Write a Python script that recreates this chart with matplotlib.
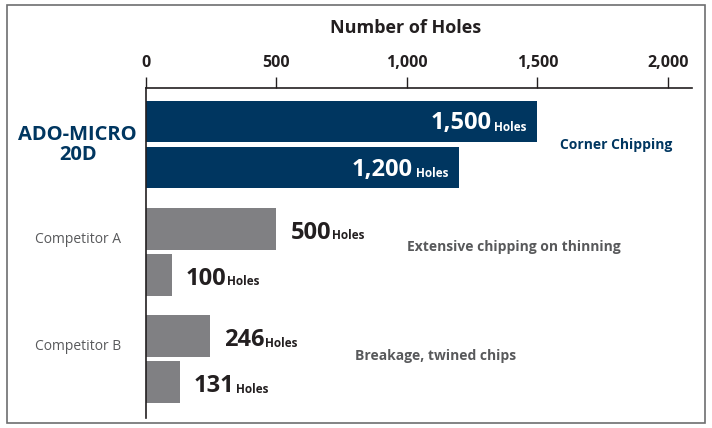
import matplotlib

matplotlib.use("Agg")
import matplotlib.pyplot as plt
from matplotlib.patches import Rectangle
from matplotlib.ticker import FuncFormatter

plt.rcParams["font.family"] = ["Open Sans", "DejaVu Sans"]

# data
groups = ["ADO-MICRO\n20D", "Competitor A", "Competitor B"]
first_run = [1500, 500, 246]
second_run = [1200, 100, 131]
notes = ["Corner Chipping", "Extensive chipping on thinning", "Breakage, twined chips"]
xticks = [0, 500, 1000, 1500, 2000]

NAVY = "#003660"
GREY_BAR = "#808083"
GREY_TEXT = "#58595b"
DARK = "#231f20"

fig = plt.figure(figsize=(7.12, 4.28), dpi=100)
fig.patches.append(
    Rectangle((7 / 712, 5 / 428), 698 / 712, 418 / 428, transform=fig.transFigure,
              facecolor="none", edgecolor="#6d6e70", linewidth=1.2)
)
ax = fig.add_axes([146 / 712, 10 / 428, 546 / 712, 330 / 428])

offset = 0.215
height = 0.385
for i, (a, b) in enumerate(zip(first_run, second_run)):
    color = NAVY if i == 0 else GREY_BAR
    ax.barh(i - offset, a, height=height, color=color)
    ax.barh(i + offset, b, height=height, color=color)

ax.set_xlim(0, 2092)
ax.set_ylim(2.55, -0.53)


def value_label(value, y, inside):
    big = 17
    small = 8.5
    if inside:
        holes = ax.annotate("Holes", xy=(value, y), xytext=(-8, -6.5), textcoords="offset points",
                            ha="right", va="baseline", fontsize=small, fontweight="bold", color="white")
        ax.annotate(f"{value:,}", xy=(0, 0), xycoords=holes, xytext=(-2, -1.2),
                    textcoords="offset points", ha="right", va="bottom",
                    fontsize=big, fontweight="bold", color="white")
    else:
        num = ax.annotate(f"{value:,}", xy=(value, y), xytext=(10, -7), textcoords="offset points",
                          ha="left", va="baseline", fontsize=big, fontweight="bold", color=DARK)
        ax.annotate("Holes", xy=(1, 0), xycoords=num, xytext=(0.5, 1.6),
                    textcoords="offset points", ha="left", va="bottom",
                    fontsize=small, fontweight="bold", color=DARK)


for i, (a, b) in enumerate(zip(first_run, second_run)):
    value_label(a, i - offset, inside=(i == 0))
    value_label(b, i + offset, inside=(i == 0))

# group labels
ax.text(-0.125, 0, groups[0], transform=ax.get_yaxis_transform(), ha="center", va="center",
        fontsize=14.5, fontweight="bold", color=NAVY, linespacing=1.0)
for i in (1, 2):
    ax.text(-0.125, i - 0.12, groups[i], transform=ax.get_yaxis_transform(), ha="center",
            va="center", fontsize=10, color=GREY_TEXT)

# notes
note_x = [1585, 1000, 800]
note_y = [0, 1 - 0.05, 2 - 0.03]
for i, (txt, nx, ny) in enumerate(zip(notes, note_x, note_y)):
    ax.text(nx, ny, txt, ha="left", va="center", fontsize=10, fontweight="bold",
            color=NAVY if i == 0 else GREY_TEXT)

ax.set_yticks([])
ax.xaxis.tick_top()
ax.set_xticks(xticks)
ax.xaxis.set_major_formatter(FuncFormatter(lambda v, _: f"{int(v):,}"))
ax.tick_params(axis="x", direction="out", length=8, width=1, color=DARK, pad=4,
               labelsize=11.5, labelcolor=DARK)
for lab in ax.get_xticklabels():
    lab.set_fontweight("bold")
for side in ("right", "bottom"):
    ax.spines[side].set_visible(False)
ax.spines["top"].set_color(DARK)
ax.spines["left"].set_color(DARK)
ax.spines["top"].set_linewidth(1.2)
ax.spines["left"].set_linewidth(1.2)

fig.text(406 / 712, 1 - 28 / 428, "Number of Holes", ha="center", va="center",
         fontsize=13, fontweight="bold", color=DARK)

fig.savefig("out.png", dpi=100)
